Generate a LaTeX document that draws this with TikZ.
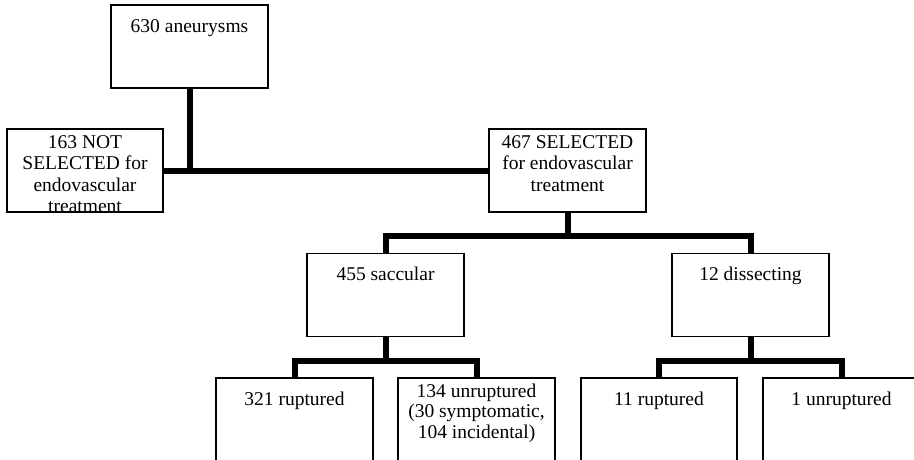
\documentclass[tikz,border=0pt]{standalone}
\usepackage{fontspec}
\setmainfont{Liberation Serif}
\begin{document}
\begin{tikzpicture}[x=1pt,y=-1pt,
  box/.style={draw, line width=1.4pt, minimum width=157pt, minimum height=83pt, inner sep=0pt},
  txt/.style={anchor=north, inner sep=0pt, align=center, font=\fontsize{19.5}{21.5}\selectfont},
  conn/.style={line width=6pt}]
\useasboundingbox (0,0) rectangle (914,460);
\clip (0,0) rectangle (914,460);
% boxes
\node[box] (top) at (189.5,46.5) {};
\node[box, minimum width=156pt] (notsel) at (85,170.5) {};
\node[box] (sel) at (567.5,170.5) {};
\node[box] (sac) at (385.5,295) {};
\node[box] (dis) at (750.5,295) {};
\node[box] (r1) at (294.5,419.5) {};
\node[box] (u1) at (476.5,419.5) {};
\node[box, minimum width=156pt] (r2) at (659,419.5) {};
\node[box] (u2) at (841.5,419.5) {};
% texts
\node[txt] (topt) at (189.5,17) {\rule{0pt}{15pt}630 aneurysms};
\node[txt] (notselt) at (85,133) {\rule{0pt}{15pt}163 NOT\\SELECTED for\\endovascular\\treatment};
\node[txt] (selt) at (567.5,133) {\rule{0pt}{15pt}467 SELECTED\\for endovascular\\treatment};
\node[txt] (sact) at (385.5,265) {\rule{0pt}{15pt}455 saccular};
\node[txt] (dist) at (750.5,265) {\rule{0pt}{15pt}12 dissecting};
\node[txt] (r1t) at (294.5,390) {\rule{0pt}{15pt}321 ruptured};
\node[txt, font=\fontsize{19.5}{20.5}\selectfont] (u1t) at (476.5,382) {\rule{0pt}{15pt}134 unruptured\\(30 symptomatic,\\104 incidental)};
\node[txt] (r2t) at (659,390) {\rule{0pt}{15pt}11 ruptured};
\node[txt] (u2t) at (841.5,390) {\rule{0pt}{15pt}1 unruptured};
% branch levels
\coordinate (b1) at (0,236);
\coordinate (b2) at (0,361);
% connectors
\draw[conn] (notsel.east) -- (sel.west);
\draw[conn] (top.south) -- (top.south |- notsel.east);
\draw[conn] (sel.south) -- (sel.south |- b1);
\draw[conn] (sac.north) -- (sac.north |- b1) -- (dis.north |- b1) -- (dis.north);
\draw[conn] (sac.south) -- (sac.south |- b2);
\draw[conn] (r1.north) -- (r1.north |- b2) -- (u1.north |- b2) -- (u1.north);
\draw[conn] (dis.south) -- (dis.south |- b2);
\draw[conn] (r2.north) -- (r2.north |- b2) -- (u2.north |- b2) -- (u2.north);
\end{tikzpicture}
\end{document}
